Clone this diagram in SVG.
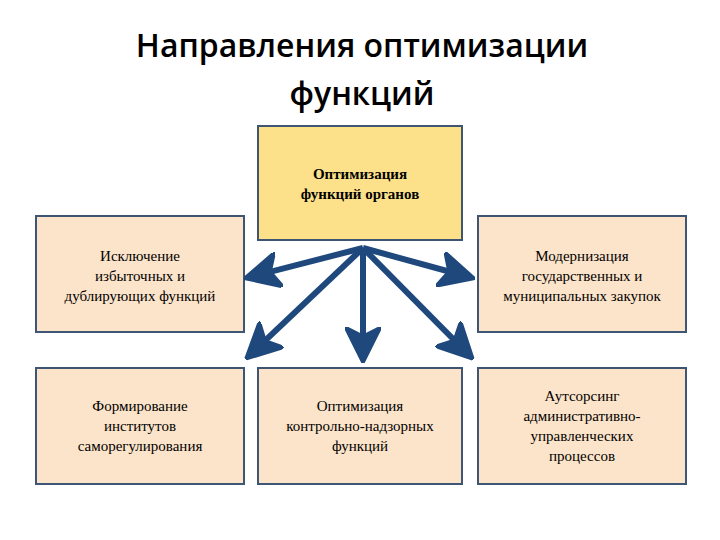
<svg xmlns="http://www.w3.org/2000/svg" width="720" height="540" viewBox="0 0 720 540">
<style>
.t{font-family:"Open Sans","Liberation Sans",sans-serif;font-weight:600;font-size:32px;fill:#000;text-anchor:middle}
.b{stroke:#3E5573;stroke-width:2}
.p{fill:#FCE4CA}
.l{font-family:"Liberation Serif","DejaVu Serif",serif;font-size:15px;fill:#000;text-anchor:middle}
.c{stroke:#1F497D;stroke-width:6;fill:none;marker-end:url(#a)}
</style>
<defs>
<marker id="a" viewBox="0 0 12 12" refX="10" refY="6" markerWidth="6" markerHeight="6" orient="auto" markerUnits="strokeWidth">
<path d="M0,0 L12,6 L0,12 L3,6 z" fill="#1F497D" stroke="#1F497D" stroke-linejoin="round"/>
</marker>
</defs>
<rect width="720" height="540" fill="#fff"/>
<text class="t" x="362" y="57">Направления оптимизации</text>
<text class="t" x="362" y="105">функций</text>
<g id="top"><rect class="b" x="258" y="126" width="204" height="114" fill="#FDE08A"/>
<text class="l" x="360" y="179" font-weight="bold">Оптимизация</text><text class="l" x="360" y="199" font-weight="bold">функций органов</text></g>
<g id="n1"><rect class="b p" x="36" y="216" width="208" height="116"/>
<text class="l" x="140" y="261">Исключение</text><text class="l" x="140" y="281">избыточных и</text><text class="l" x="140" y="301">дублирующих функций</text></g>
<g id="n2"><rect class="b p" x="478" y="216" width="208" height="116"/>
<text class="l" x="582" y="261">Модернизация</text><text class="l" x="582" y="281">государственных и</text><text class="l" x="582" y="301">муниципальных закупок</text></g>
<g id="n3"><rect class="b p" x="36" y="368" width="208" height="116"/>
<text class="l" x="140" y="411">Формирование</text><text class="l" x="140" y="431">институтов</text><text class="l" x="140" y="451">саморегулирования</text></g>
<g id="n4"><rect class="b p" x="258" y="368" width="204" height="116"/>
<text class="l" x="360" y="411">Оптимизация</text><text class="l" x="360" y="431">контрольно-надзорных</text><text class="l" x="360" y="451">функций</text></g>
<g id="n5"><rect class="b p" x="478" y="368" width="208" height="116"/>
<text class="l" x="582" y="401">Аутсорсинг</text><text class="l" x="582" y="421">административно-</text><text class="l" x="582" y="441">управленческих</text><text class="l" x="582" y="461">процессов</text></g>
<g id="connectors">
<line class="c" x1="363" y1="248" x2="250" y2="277"/>
<line class="c" x1="363" y1="248" x2="469" y2="277"/>
<line class="c" x1="363" y1="248" x2="250" y2="355"/>
<line class="c" x1="363" y1="248" x2="363" y2="357"/>
<line class="c" x1="363" y1="248" x2="469" y2="355"/>
</g>
</svg>
